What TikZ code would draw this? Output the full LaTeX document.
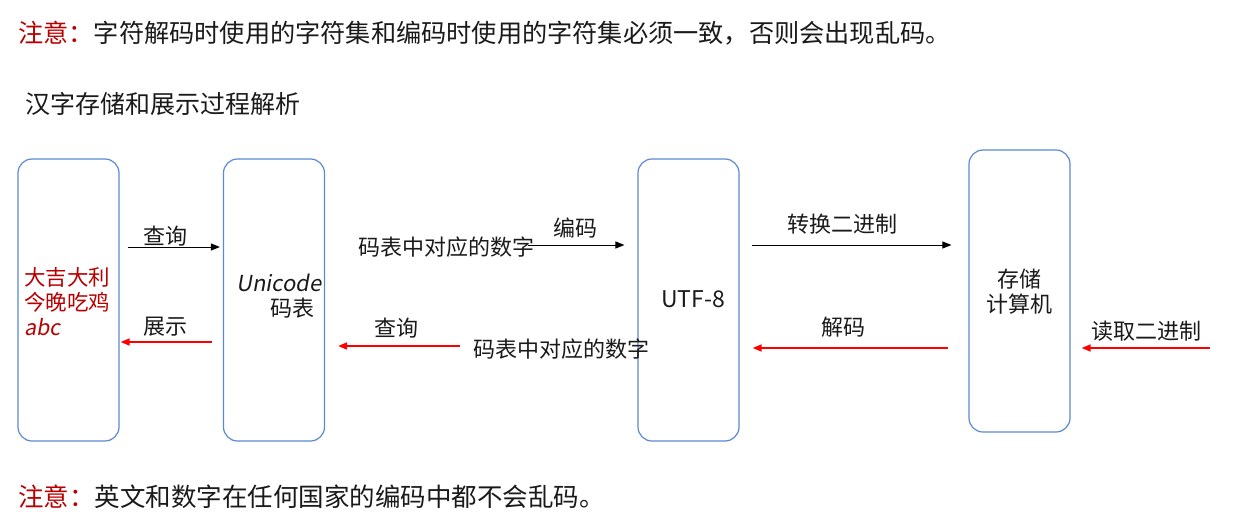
\documentclass[tikz,border=0pt]{standalone}
\usepackage{fontspec}
\setmainfont{Noto Sans CJK SC}
\newfontfamily\slfont[FakeSlant=0.18]{Noto Sans CJK SC}
\usepackage{xcolor}
\usetikzlibrary{arrows.meta,positioning,calc}
\definecolor{boxblue}{HTML}{5B8AD0}
\definecolor{darkred}{HTML}{B80000}
\definecolor{ink}{HTML}{1A1A1A}
\tikzset{
  stage/.style={draw=boxblue,line width=1.2pt,rounded corners=14pt,minimum width=101pt,
    minimum height=282pt,inner sep=0pt},
  lbl/.style={font=\fontsize{22}{25}\selectfont,inner sep=0pt,text=ink},
  arr/.style={-{Triangle[length=9pt,width=7pt]},line width=1pt,draw=black},
  back/.style={-{Triangle[length=9pt,width=7pt]},line width=1.6pt,draw=red},
  remark/.style={anchor=west,inner sep=0pt,font=\fontsize{25.2}{30}\selectfont,text=ink}
}
\newcommand{\zhuyi}{\textcolor{darkred}{注意：}}

\begin{document}
\begin{tikzpicture}[x=1pt,y=-1pt]
 \fill[white] (0,0) rectangle (1236,517);
 \useasboundingbox (0,0) rectangle (1236,517);
 % notes and heading
 \node[remark] (topnote) at (18,33) {\zhuyi 字符解码时使用的字符集和编码时使用的字符集必须一致，否则会出现乱码。};
 \node[remark,font=\fontsize{25}{28}\selectfont] (heading) at (25,104) {汉字存储和展示过程解析};
 \node[remark,font=\fontsize{25.5}{30}\selectfont] (endnote) at (18,497) {\zhuyi 英文和数字在任何国家的编码中都不会乱码。};
 % the four stages
 \node[stage] (b1) at (68.5,300) {};
 \node[stage] (b2) at (274,300) {};
 \node[stage] (b3) at (688.5,300) {};
 \node[stage] (b4) at (1019.5,291) {};
 \node[lbl,anchor=north west,align=left,text=darkred,font=\fontsize{21.5}{25}\selectfont]
   (chars) at (24,267) {大吉大利\\今晚吃鸡\\{\slfont abc}};
 \node[lbl,anchor=west,align=left] (uni) at (236,296) {{\slfont Unicode}\\\hspace{34pt}码表};
 \node[lbl,anchor=west,font=\fontsize{23}{25}\selectfont] (utf) at (661,299) {UTF-8};
 \node[lbl,align=center] (store) at (1019,292) {存储\\计算机};
 % forward: look up, encode, store
 \draw[arr] ([xshift=8pt,yshift=53pt]b1.east) -- ([xshift=-3pt,yshift=53pt]b2.west);
 \node[lbl] (q1) at (165,236) {查询};
 \node[lbl,anchor=west] (num1) at (358,247) {码表中对应的数字};
 \draw[arr,shorten >=13pt] ([xshift=-6pt,yshift=2pt]num1.east) -- ([yshift=2pt]num1.east -| b3.west);
 \node[lbl] (enc) at (575,228) {编码};
 \draw[arr,shorten <=12pt,shorten >=17pt] ([yshift=55pt]b3.east) -- ([yshift=55pt]b3.east -| b4.west);
 \node[lbl] (bin) at (842,224) {转换二进制};
 % backward: read, decode, display
 \coordinate (src) at (1210,348);
 \draw[back,shorten >=11pt] (src) -- (src -| b4.east);
 \node[lbl] (rd) at (1146,331) {读取二进制};
 \draw[back,shorten <=20pt,shorten >=13pt] ([yshift=-48pt]b3.east -| b4.west) -- ([yshift=-48pt]b3.east);
 \node[lbl] (dec) at (843,327) {解码};
 \node[lbl,anchor=west] (num2) at (473,349) {码表中对应的数字};
 \draw[back,shorten >=13pt] ([xshift=-13pt,yshift=3pt]num2.west) -- ([yshift=3pt]num2.west -| b2.east);
 \node[lbl] (q2) at (396,328) {查询};
 \draw[back] ([xshift=-11pt,yshift=-42pt]b2.west) -- ([xshift=1pt,yshift=-42pt]b1.east);
 \node[lbl] (show) at (165,327) {展示};
\end{tikzpicture}
\end{document}
